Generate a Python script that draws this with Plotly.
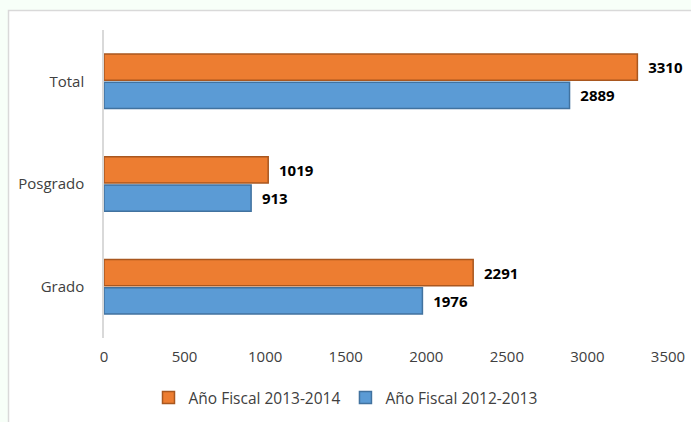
import plotly.graph_objects as go

categories = ["Grado", "Posgrado", "Total"]
fy_2012_2013 = [1976, 913, 2889]
fy_2013_2014 = [2291, 1019, 3310]
x_ticks = [0, 500, 1000, 1500, 2000, 2500, 3000, 3500]

L, R, T, B = 104, 23, 30, 84
W, H = 691, 422
pw, ph = W - L - R, H - T - B

def px_x(p):
    return (p - L) / pw

def px_y(p):
    return (H - B - p) / ph

label_font = dict(family="Open Sans", size=15, color="#000000", weight="bold")

fig = go.Figure()
fig.add_trace(go.Bar(
    y=categories, x=fy_2012_2013, orientation="h", name="Año Fiscal 2012-2013",
    marker=dict(color="#5B9BD5", line=dict(color="#41729F", width=1.5)),
    texttemplate="  %{x}", textposition="outside",
    textfont=label_font, cliponaxis=False,
))
fig.add_trace(go.Bar(
    y=categories, x=fy_2013_2014, orientation="h", name="Año Fiscal 2013-2014",
    marker=dict(color="#ED7D31", line=dict(color="#A9571F", width=1.5)),
    texttemplate="  %{x}", textposition="outside",
    textfont=label_font, cliponaxis=False,
))

fig.add_shape(type="rect", xref="paper", yref="paper",
              x0=px_x(8.5), x1=px_x(700), y0=px_y(430), y1=px_y(10.5),
              fillcolor="white", line=dict(color="#D9D9D9", width=1.5), layer="below")

fig.update_layout(
    width=W, height=H,
    margin=dict(l=L, r=R, t=T, b=B, autoexpand=False),
    paper_bgcolor="#F7FFF8", plot_bgcolor="rgba(0,0,0,0)",
    barmode="group", bargap=0.45, bargroupgap=0.07,
    font=dict(family="Open Sans", size=15, color="#404040"),
    showlegend=True,
    legend=dict(orientation="h", x=0.5, xref="container", xanchor="center",
                y=1 - 398 / H, yref="container", yanchor="middle",
                traceorder="reversed", font=dict(size=15.5, color="#404040"),
                itemwidth=30, bgcolor="rgba(0,0,0,0)"),
)
fig.update_xaxes(range=[0, 3500], tickvals=x_ticks, showgrid=False, zeroline=False,
                 showline=False, ticks="", ticklabelstandoff=8, automargin=False)
fig.update_yaxes(showgrid=False, zeroline=False, showline=True, linecolor="#D9D9D9",
                 linewidth=1.5, ticks="", ticklabelstandoff=15, automargin=False)

fig.write_html("out.html",
               config={"displayModeBar": False},
               post_script="document.body.style.margin='0';document.body.style.background='#F7FFF8';")
